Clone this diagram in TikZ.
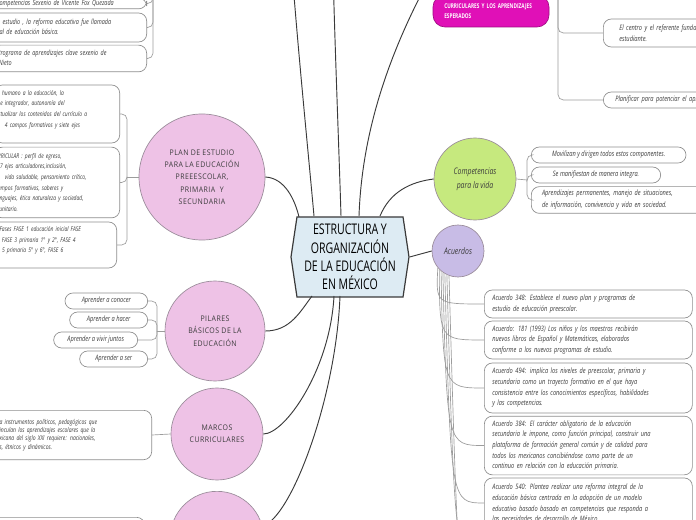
\documentclass[tikz,border=0pt]{standalone}
\usepackage{fontspec}
\setmainfont{Open Sans}
\newfontfamily\manofont{Open Sans}[FakeStretch=0.76]
\newfontfamily\temafont{Open Sans}[FakeStretch=0.9,LetterSpace=6]
\newfontfamily\titulofont{Open Sans}[FakeStretch=0.72]
\usetikzlibrary{shapes.symbols}

\definecolor{rosa}{HTML}{EEC2E6}
\definecolor{verde}{HTML}{C6E97E}
\definecolor{lila}{HTML}{C8BCE6}
\definecolor{fucsia}{HTML}{E010B7}
\definecolor{azulclaro}{HTML}{DDEBF3}
\definecolor{bordecirc}{HTML}{9A8C9A}
\definecolor{bordehoja}{HTML}{8E8E8E}
\definecolor{lineagris}{HTML}{9C9C9C}
\definecolor{lineaosc}{HTML}{3A3A3A}
\definecolor{textogris}{HTML}{3C3C3C}

% texto cortado por el borde izquierdo
\newcommand\corte[1]{\leavevmode\llap{#1}}

\tikzset{
  central/.style={shape=signal, signal to=east and west, signal pointer angle=163,
    draw=lineaosc, fill=azulclaro, line width=0.9pt, minimum width=88.5pt,
    minimum height=60pt, inner sep=0pt, align=center,
    font=\titulofont\fontsize{11}{13.8}\selectfont},
  tema/.style={circle, draw=bordecirc, fill=rosa, line width=0.5pt, inner sep=0pt,
    align=center, text=textogris, font=\temafont\fontsize{5.8}{9.2}\selectfont},
  temabaja/.style={tema, font=\manofont\itshape\fontsize{6.8}{10.5}\selectfont},
  fucsiabox/.style={draw=fucsia!70!black, fill=fucsia, rounded corners=9pt,
    line width=0.5pt, align=left, text=white, inner xsep=8.5pt,
    font=\titulofont\bfseries\fontsize{4.9}{7.5}\selectfont},
  hoja/.style={draw=bordehoja, fill=white, line width=0.5pt, rounded corners=6pt,
    inner xsep=8pt, inner ysep=2pt, align=left, text=textogris,
    font=\manofont\itshape\fontsize{5.6}{8}\selectfont},
  hojacorta/.style={hoja, align=center, minimum height=12pt},
  hojaplan/.style={hoja, anchor=east, text width=78pt,
    font=\manofont\itshape\fontsize{4.9}{8}\selectfont},
  hojaarriba/.style={hoja, anchor=east, text width=100pt,
    font=\manofont\itshape\fontsize{5.4}{7}\selectfont},
  rama/.style={draw=lineagris, line width=0.5pt},
  enlace/.style={draw=lineaosc, line width=0.7pt},
}

\begin{document}
\begin{tikzpicture}[x=0.75pt, y=-0.75pt]
\useasboundingbox (0,0) rectangle (696,520);
\fill[white] (0,0) rectangle (696,520);

% temas
\node[central] (centro) at (350,257) {ESTRUCTURA Y\\ORGANIZACIÓN\\DE LA EDUCACIÓN\\EN MÉXICO};
\node[tema, minimum size=94.5pt] (plan) at (202,177) {PLAN DE ESTUDIO\\PARA LA EDUCACIÓN\\PREEESCOLAR,\\PRIMARIA~~Y\\SECUNDARIA};
\node[tema, minimum size=75pt] (pilares) at (215,331) {PILARES\\BÁSICOS DE LA\\EDUCACIÓN};
\node[tema, minimum size=69pt] (marcos) at (217,434) {MARCOS\\CURRICULARES};
\node[tema, minimum size=70pt] (tema4) at (217,538) {};
\node[temabaja, fill=verde, minimum size=61.5pt] (competencias) at (475,179) {Competencias\\para la vida};
\node[temabaja, fill=lila, minimum size=39pt] (acuerdos) at (458,251) {Acuerdos};
\node[fucsiabox, text width=70pt, minimum height=24pt] (perfil) at (491,11) {CURRICULARES Y LOS APRENDIZAJES\\ESPERADOS};

% puntos de enlace
\coordinate (cnw) at (299,217);
\coordinate (cn1) at (314,216);
\coordinate (cn2) at (341,216);
\coordinate (cn3) at (359,216);
\coordinate (cn4) at (380,216);
\coordinate (cs1) at (312,296);
\coordinate (cs2) at (334,296);
\coordinate (cs3) at (340,296);
\coordinate (arriba1) at (292,-30);
\coordinate (arriba2) at (333,-30);
\coordinate (fucsiain) at (433,-28);

% hojas arriba izquierda
\node[hojaarriba, minimum height=8pt, inner ysep=0.5pt] (t1) at (147,3.5) {\corte{Co}mpetencias Sexenio de Vicente Fox Quezada};
\node[hojaarriba, minimum height=21.75pt] (t2) at (147,27.5) {\corte{plan de }estudio , la reforma educativa fue llamada\\\corte{Reforma Integra}l de educación básica.};
\node[hojaarriba, minimum height=20pt] (t3) at (147,58.5) {\corte{Pr}ograma de aprendizajes clave sexenio de\\\corte{Enrique Peña N}ieto};

% hojas del plan de estudio
\node[hojaplan, minimum height=43.5pt] (planA) at (120,114) {\corte{Derecho h}umano a la educación, la\\\corte{enfoque }integrador, autonomía del\\\corte{contextu}alizar los contenidos del currículo a\\4 campos formativos y siete ejes\\\mbox{}};
\node[hojaplan, minimum height=53pt] (planB) at (120,182.5) {\corte{MARCO CURRI}CULAR : perfil de egreso,\\\corte{7 }ejes articuladores,inclusión,\\vida saludable, pensamiento crítico,\\\corte{cam}pos formativos, saberes y\\\corte{leng}uajes, ética naturaleza y sociedad,\\\corte{comun}itario.};
\node[hojaplan, minimum height=34.5pt] (planC) at (117,245) {\corte{F}ases FASE 1 educación inicial FASE\\\corte{2 preescolar, }FASE 3 primaria 1° y 2°, FASE 4\\\corte{FASE }5 primaria 5° y 6°, FASE 6\\\mbox{}};

% hojas de los pilares
\node[hojacorta, anchor=east, minimum width=62pt] (conocer) at (148,301) {Aprender a conocer};
\node[hojacorta, anchor=east, minimum width=58.5pt] (hacer) at (148,320) {Aprender a hacer};
\node[hojacorta, anchor=east, minimum width=63pt] (convivir) at (138,340) {Aprender a vivir juntos};
\node[hojacorta, anchor=east, minimum width=51pt] (ser) at (148,359) {Aprender a ser};

% hoja de marcos curriculares
\node[hoja, anchor=east, text width=106pt, minimum height=37pt, font=\manofont\itshape\fontsize{5}{6.3}\selectfont] (marcosA) at (152,435) {a instrumentos políticos, pedagógicos que\\\corte{v}inculan los aprendizajes escolares que la\\\corte{sociedad me}xicana del siglo XXI requiere: nacionales,\\\corte{locale}s, étnicos y dinámicos.};
\node[hoja, anchor=north east, minimum width=150pt, minimum height=40pt] (tema4A) at (145,517) {};

% hojas del perfil
\node[hoja, anchor=west, text width=190pt, minimum height=21pt, inner xsep=12pt] (centroref) at (603,33) {El centro y el referente fundamental es el\\estudiante.};
\node[hoja, anchor=west, text width=190pt, minimum height=12pt, inner xsep=9pt] (planificar) at (603,100) {Planificar para potenciar el aprendizaje};

% hojas de competencias
\node[hojacorta, anchor=west, minimum width=116pt] (movilizan) at (531,155) {Movilizan y dirigen todos estos componentes.};
\node[hojacorta, anchor=west, minimum width=97pt] (integra) at (531,175) {Se manifiestan de manera integra.};
\node[hoja, anchor=west, text width=121pt, minimum height=20pt, font=\manofont\itshape\fontsize{5.6}{9}\selectfont] (permanentes) at (531,200) {Aprendizajes permanentes, manejo de situaciones,\\de información, convivencia y vida en sociedad.};

% hojas de acuerdos
\node[hoja, anchor=west, text width=144pt, minimum height=21pt, inner xsep=6pt] (a348) at (484,304) {Acuerdo 348: Establece el nuevo plan y programas de\\estudio de educación preescolar.};
\node[hoja, anchor=west, text width=144pt, minimum height=28.5pt, inner xsep=6pt] (a181) at (484,340) {Acuerdo: 181 (1993) Los niños y los maestros recibirán\\nuevos libros de Español y Matemáticas, elaborados\\conforme a los nuevos programas de estudio.};
\node[hoja, anchor=west, text width=144pt, minimum height=37.5pt, inner xsep=6pt] (a494) at (484,388) {Acuerdo 494: implica los niveles de preescolar, primaria y\\secundaria como un trayecto formativo en el que haya\\consistencia entre los conocimientos específicos, habilidades\\y las competencias.};
\node[hoja, anchor=west, text width=144pt, minimum height=44pt, inner xsep=6pt] (a384) at (484,445.5) {Acuerdo 384: El carácter obligatorio de la educación\\secundaria le impone, como función principal, construir una\\plataforma de formación general común y de calidad para\\todos los mexicanos concibiéndose como parte de un\\continuo en relación con la educación primaria.};
\node[hoja, anchor=west, text width=144pt, minimum height=37.5pt, inner xsep=6pt] (a540) at (484,503) {Acuerdo 540: Plantea realizar una reforma integral de la\\educación básica centrada en la adopción de un modelo\\educativo basado basado en competencias que responda a\\las necesidades de desarrollo de México.};
\coordinate (acuoff1) at (484,560);
\coordinate (acuoff2) at (484,620);

% enlaces del centro
\draw[enlace] (plan.east) .. controls (285,178) and (295,200) .. (cnw);
\draw[enlace] (cn1) .. controls (308,150) and (298,50) .. (arriba1);
\draw[enlace] (cn2) .. controls (339,150) and (335,50) .. (arriba2);
\draw[enlace] (cn3) .. controls (362,130) and (390,50) .. (fucsiain);
\draw[enlace] (cn4) .. controls (390,192) and (410,182) .. (competencias.west);
\draw[enlace] (centro.east) -- (acuerdos.west);
\draw[enlace] (pilares.east) .. controls (290,331) and (300,312) .. (cs1);
\draw[enlace] (marcos.east) .. controls (285,434) and (330,370) .. (cs2);
\draw[enlace] (tema4.15) .. controls (290,520) and (336,400) .. (cs3);

% ramas
\coordinate (tlj) at (153,-30);
\foreach \h in {t1,t2,t3}
  \draw[rama, rounded corners=4pt] (tlj) |- (\h.east);
\coordinate (planj) at (127,177);
\draw[rama] (plan.west) -- (planj);
\foreach \h in {planA,planB,planC}
  \draw[rama, rounded corners=4pt] (planj) |- (\h.east);
\coordinate (pilj) at (157,331);
\draw[rama] (pilares.west) -- (pilj);
\foreach \h in {conocer,hacer,convivir,ser}
  \draw[rama, rounded corners=4pt] (pilj) |- (\h.east);
\draw[rama] (marcos.west) -- (marcosA.east);
\draw[rama] (tema4.west) -- (tema4A.east);
\coordinate (fucsiaj) at (558,-30);
\foreach \h in {centroref,planificar}
  \draw[rama, rounded corners=4pt] (fucsiaj) |- (\h.west);
\coordinate (compj) at (527,180);
\draw[rama] (competencias.east) -- (compj);
\foreach \h in {movilizan,integra,permanentes}
  \draw[rama, rounded corners=4pt] (compj) |- (\h.west);
\foreach \h/\a/\k in {a348/220/0,a181/225/1,a494/230/2,a384/235/3,a540/240/4,acuoff1/245/5,acuoff2/250/6}
  \draw[rama] (acuerdos.\a) .. controls ([xshift=-1.5pt*(1-\k)] acuerdos.\a |- \h) .. (\h);
\end{tikzpicture}
\end{document}
